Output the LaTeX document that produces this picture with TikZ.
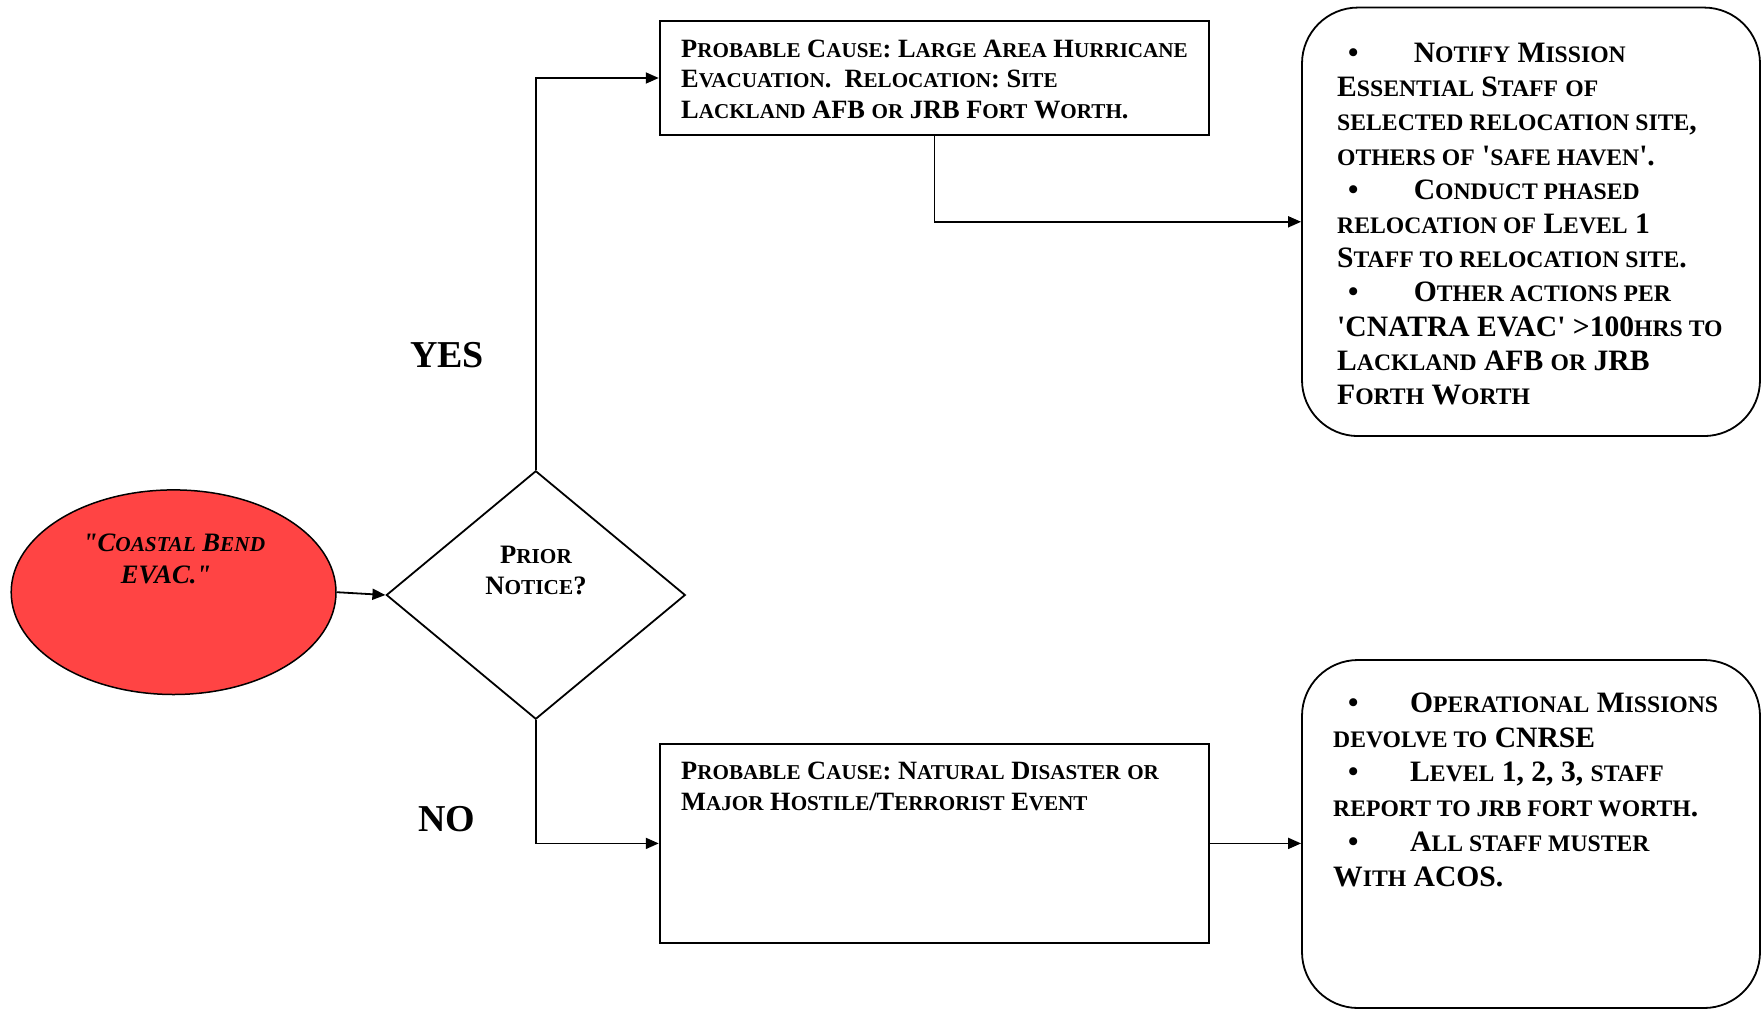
\documentclass[tikz,border=0pt]{standalone}
\usepackage{fontspec}
\setmainfont{Liberation Serif}
\usetikzlibrary{shapes.geometric,arrows.meta}
\makeatletter
\newdimen\smcdim
\newcommand\smc[1]{{\smcdim=\f@size pt\smcdim=0.8\smcdim\fontsize{\smcdim}{\f@baselineskip}\selectfont #1}}
\makeatother
\definecolor{evacred}{RGB}{255,68,68}
\tikzset{
  box/.style={draw, line width=1.8pt, inner sep=0pt},
  arr/.style={line width=1.8pt, -{Triangle[length=13pt,width=11pt]}},
  mid/.style={font=\bfseries\fontsize{26.4}{30}\selectfont, anchor=base west, inner sep=0pt},
  rt/.style={font=\bfseries\fontsize{29.6}{34}\selectfont, anchor=base west, inner sep=0pt},
  ctr/.style={font=\bfseries\fontsize{26.6}{30}\selectfont, anchor=base, inner sep=0pt},
  lbl/.style={font=\bfseries\fontsize{38}{44}\selectfont, anchor=base, inner sep=0pt},
}
\begin{document}
\begin{tikzpicture}[x=1pt,y=-1pt]
\useasboundingbox (0,0) rectangle (1762,1010);
% shapes
\node[ellipse, draw, line width=1.5pt, fill=evacred, minimum width=324.8pt, minimum height=204.6pt, inner sep=0pt] (ell) at (173.6,592.2) {};
\node[diamond, box, minimum width=299pt, minimum height=248.4pt] (dia) at (535.8,595) {};
\node[box, minimum width=549.5pt, minimum height=113.5pt] (tm) at (934.4,78) {};
\node[box, minimum width=549.5pt, minimum height=198.9pt] (bm) at (934.4,843.4) {};
\node[box, rounded corners=56pt, minimum width=458pt, minimum height=428.5pt] (tr) at (1531,221.8) {};
\node[box, rounded corners=56pt, minimum width=458pt, minimum height=348pt] (br) at (1531,834) {};
% connectors
\draw[arr] (ell.east) -- (dia.west);
\draw[arr] (dia.north) |- (tm.west);
\draw[arr] (dia.south) |- (bm.west);
\draw[arr] (tm.south) |- (tr.west);
\draw[arr] (bm.east) -- (bm.east -| br.west);
% labels
\node[lbl] (yes) at (447,367.5) {YES};
\node[lbl] (no) at (447,831.5) {NO};
% ellipse text
\node[ctr, font=\bfseries\itshape\fontsize{26.6}{30}\selectfont] (e1) at (174,551.7) {\textquotedbl C\smc{OASTAL} B\smc{END}};
\node[ctr, font=\bfseries\itshape\fontsize{26.6}{30}\selectfont] (e2) at (166,583.2) {EVAC.\textquotedbl};
% diamond text
\node[ctr] (d1) at (536,563) {P\smc{RIOR}};
\node[ctr] (d2) at (536,594.4) {N\smc{OTICE}?};
% top middle text
\node[mid] (tm1) at (681,57.3) {P\smc{ROBABLE} C\smc{AUSE}: L\smc{ARGE} A\smc{REA} H\smc{URRICANE}};
\node[mid] (tm2) at (681,87.6) {E\smc{VACUATION}.\ \ R\smc{ELOCATION}: S\smc{ITE}};
\node[mid] (tm3) at (681,118) {L\smc{ACKLAND} AFB \smc{OR} JRB F\smc{ORT} W\smc{ORTH}.};
% bottom middle text
\node[mid] (bm1) at (681,779.9) {P\smc{ROBABLE} C\smc{AUSE}: N\smc{ATURAL} D\smc{ISASTER} \smc{OR}};
\node[mid] (bm2) at (681,810.2) {M\smc{AJOR} H\smc{OSTILE}/T\smc{ERRORIST} E\smc{VENT}};
% top right text
\node[rt] (trb1) at (1348,62.5) {\textbullet};
\node[rt] (tr1) at (1413.6,62.5) {N\smc{OTIFY} M\smc{ISSION}};
\node[rt] (tr2) at (1337,96.7) {E\smc{SSENTIAL} S\smc{TAFF} \smc{OF}};
\node[rt] (tr3) at (1337,130.9) {\smc{SELECTED RELOCATION SITE},};
\node[rt] (tr4) at (1337,165.1) {\smc{OTHERS OF} \textquotesingle\smc{SAFE HAVEN}\textquotesingle.};
\node[rt] (trb2) at (1348,199.3) {\textbullet};
\node[rt] (tr5) at (1413.6,199.3) {C\smc{ONDUCT PHASED}};
\node[rt] (tr6) at (1337,233.5) {\smc{RELOCATION OF} L\smc{EVEL} 1};
\node[rt] (tr7) at (1337,267.7) {S\smc{TAFF TO RELOCATION SITE}.};
\node[rt] (trb3) at (1348,301.9) {\textbullet};
\node[rt] (tr8) at (1413.6,301.9) {O\smc{THER ACTIONS PER}};
\node[rt] (tr9) at (1337,336.1) {\textquotesingle CNATRA EVAC\textquotesingle\ >100\smc{HRS TO}};
\node[rt] (tr10) at (1337,370.3) {L\smc{ACKLAND} AFB \smc{OR} JRB};
\node[rt] (tr11) at (1337,404.5) {F\smc{ORTH} W\smc{ORTH}};
% bottom right text
\node[rt] (brb1) at (1348,712.5) {\textbullet};
\node[rt] (br1) at (1410,712.5) {O\smc{PERATIONAL} M\smc{ISSIONS}};
\node[rt] (br2) at (1333,747.2) {\smc{DEVOLVE TO} CNRSE};
\node[rt] (brb2) at (1348,781.9) {\textbullet};
\node[rt] (br3) at (1410,781.9) {L\smc{EVEL} 1, 2, 3, \smc{STAFF}};
\node[rt] (br4) at (1333,816.6) {\smc{REPORT TO JRB FORT WORTH}.};
\node[rt] (brb3) at (1348,851.3) {\textbullet};
\node[rt] (br5) at (1410,851.3) {A\smc{LL STAFF MUSTER}};
\node[rt] (br6) at (1333,886) {W\smc{ITH} ACOS.};
\end{tikzpicture}
\end{document}
